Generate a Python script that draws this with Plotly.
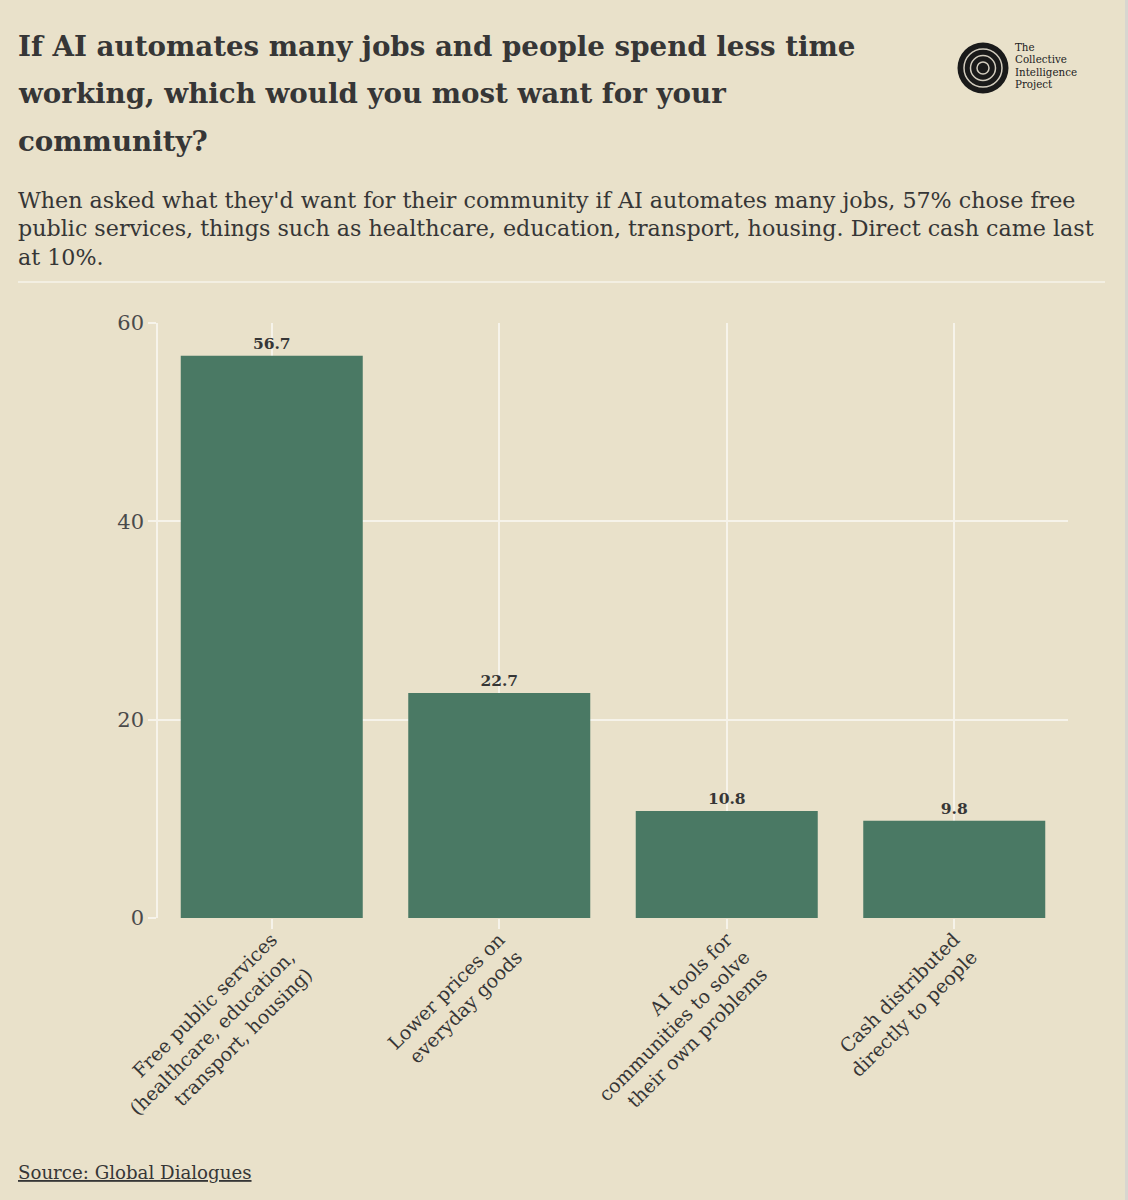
import plotly.graph_objects as go

categories = [
    "Free public services<br>(healthcare, education,<br>transport, housing)",
    "Lower prices on<br>everyday goods",
    "AI tools for<br>communities to solve<br>their own problems",
    "Cash distributed<br>directly to people",
]
values = [56.7, 22.7, 10.8, 9.8]
value_labels = ["56.7", "22.7", "10.8", "9.8"]
y_ticks = [0, 20, 40, 60]

title_lines = [
    "If AI automates many jobs and people spend less time",
    "working, which would you most want for your",
    "community?",
]
subtitle_lines = [
    "When asked what they'd want for their community if AI automates many jobs, 57% chose free",
    "public services, things such as healthcare, education, transport, housing. Direct cash came last",
    "at 10%.",
]
logo_lines = ["The", "Collective", "Intelligence", "Project"]
source_text = "Source: Global Dialogues"

W, H = 1128, 1200
L, R, T, B = 158, 1068, 323, 918
BG = "#E9E1CA"
BAR = "#4A7964"
TXT = "#363636"
GRID = "#F6F3EA"
FONT = "DejaVu Serif"


def px(xp):
    return (xp - L) / (R - L)


def py(yp):
    return (B - yp) / (B - T)


fig = go.Figure()
fig.add_trace(go.Bar(
    x=categories, y=values, text=value_labels, textposition="outside",
    textfont=dict(family=FONT, size=15.5, color=TXT, weight="bold"),
    marker=dict(color=BAR, line=dict(width=0)),
    cliponaxis=False, width=0.8,
))

annotations = []
for i, t in enumerate(title_lines):
    annotations.append(dict(
        text=t, xref="paper", yref="paper", x=px(16), y=py(46 + 47.5 * i),
        xanchor="left", yanchor="middle", showarrow=False,
        font=dict(family=FONT, size=27.7, color=TXT, weight="bold"),
    ))
for i, t in enumerate(subtitle_lines):
    annotations.append(dict(
        text=t, xref="paper", yref="paper", x=px(16), y=py(200 + 28.5 * i),
        xanchor="left", yanchor="middle", showarrow=False,
        font=dict(family=FONT, size=22.2, color=TXT),
    ))
for i, t in enumerate(logo_lines):
    annotations.append(dict(
        text=t, xref="paper", yref="paper", x=px(1013), y=py(47 + 12.3 * i),
        xanchor="left", yanchor="middle", showarrow=False,
        font=dict(family=FONT, size=10.3, color="#222222"),
    ))
annotations.append(dict(
    text="<u>" + source_text + "</u>", xref="paper", yref="paper", x=px(16), y=py(1172),
    xanchor="left", yanchor="middle", showarrow=False,
    font=dict(family=FONT, size=18.2, color=TXT),
))

shapes = [
    dict(type="line", xref="paper", yref="paper", x0=px(18), x1=px(1105),
         y0=py(282), y1=py(282), line=dict(color=GRID, width=1.5)),
    dict(type="rect", xref="paper", yref="paper", x0=px(1125), x1=px(1128),
         y0=py(0), y1=py(1200), fillcolor="#d8d6d0", line=dict(width=0)),
]
cx, cy = 983, 68
shapes.append(dict(type="circle", xref="paper", yref="paper",
                   x0=px(cx - 25.5), x1=px(cx + 25.5), y0=py(cy + 25.5), y1=py(cy - 25.5),
                   fillcolor="#1a1a1a", line=dict(width=0)))
for r in [19, 12.5, 6]:
    shapes.append(dict(type="circle", xref="paper", yref="paper",
                       x0=px(cx - r), x1=px(cx + r), y0=py(cy + r), y1=py(cy - r),
                       line=dict(color="#d2ccbe", width=1.5)))

fig.update_layout(
    width=W, height=H,
    margin=dict(l=L, r=W - R, t=T, b=H - B, pad=0),
    paper_bgcolor=BG, plot_bgcolor=BG,
    showlegend=False,
    font=dict(family=FONT, color=TXT),
    annotations=annotations, shapes=shapes,
    bargap=0.2,
)
fig.update_xaxes(
    tickangle=-45, tickfont=dict(family=FONT, size=19, color=TXT),
    ticklabelstandoff=-8,
    showgrid=True, gridcolor=GRID, gridwidth=1.5,
    ticks="outside", ticklen=10, tickcolor=GRID, tickwidth=1.5,
    showline=False, zeroline=False, range=[-0.5, 3.5],
)
fig.update_yaxes(
    range=[0, 60], tickvals=y_ticks,
    tickfont=dict(family=FONT, size=21, color="#4a4a4a"),
    showgrid=True, gridcolor=GRID, gridwidth=1.5,
    ticks="outside", ticklen=8, tickcolor=GRID, tickwidth=1.5,
    showline=True, linecolor=GRID, linewidth=1.5, zeroline=False,
)

fig.write_html("out.html", config={"displayModeBar": False},
               post_script="document.body.style.margin='0px';")
